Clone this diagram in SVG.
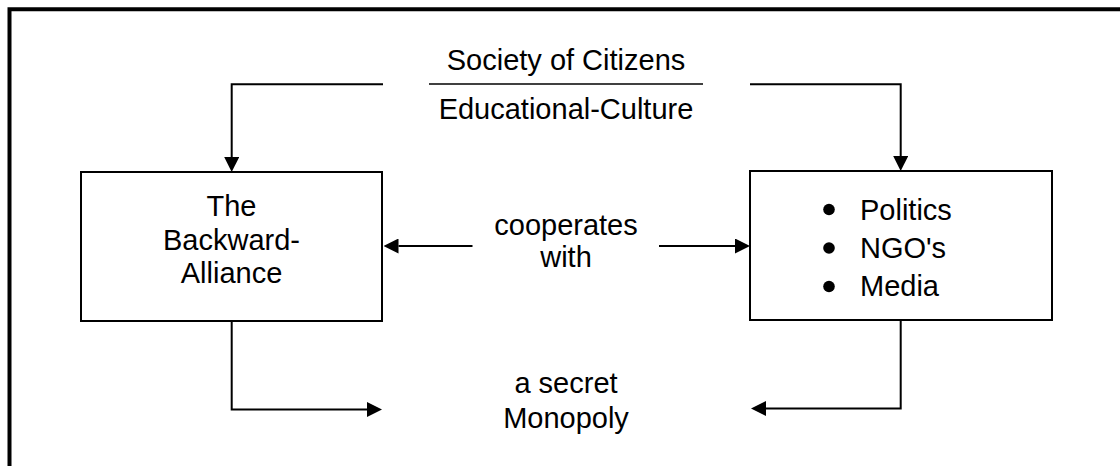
<svg xmlns="http://www.w3.org/2000/svg" width="1120" height="466" viewBox="0 0 1120 466">
  <style>
    .t { font-family: "Liberation Sans", Arial, sans-serif; font-size: 29px; fill: #000; }
    .c { text-anchor: middle; }
    .box { fill: #fff; stroke: #000; stroke-width: 2; }
    .conn { fill: none; stroke: #000; stroke-width: 2; }
  </style>
  <defs>
    <marker id="ah" viewBox="0 0 15 15" refX="0" refY="7.5" markerWidth="15" markerHeight="15" markerUnits="userSpaceOnUse" orient="auto">
      <path d="M0,0 L15,7.5 L0,15 z" fill="#000"/>
    </marker>
  </defs>
  <rect width="1120" height="466" fill="#fff"/>
  <!-- frame (top and left edges) -->
  <path d="M9.5,470 V9.3 H1125" fill="none" stroke="#000" stroke-width="4"/>

  <g id="society">
    <text class="t c" x="566" y="70">Society of Citizens</text>
    <line x1="429" y1="84" x2="703" y2="84" stroke="#000" stroke-width="1.5"/>
    <text class="t c" x="566" y="119">Educational-Culture</text>
  </g>

  <g id="backward-alliance">
    <rect class="box" x="81" y="172" width="301" height="149"/>
    <text class="t c" x="231.5" y="216">The</text>
    <text class="t c" x="231.5" y="249.5">Backward-</text>
    <text class="t c" x="231.5" y="283">Alliance</text>
  </g>

  <g id="politics-ngo-media">
    <rect class="box" x="750" y="171" width="302" height="149"/>
    <circle cx="829" cy="209.5" r="5.8"/>
    <circle cx="829" cy="248" r="5.8"/>
    <circle cx="829" cy="286.5" r="5.8"/>
    <text class="t" x="860" y="219.5">Politics</text>
    <text class="t" x="860" y="257.5">NGO's</text>
    <text class="t" x="860" y="296">Media</text>
  </g>

  <g id="cooperates">
    <text class="t c" x="566" y="235">cooperates</text>
    <text class="t c" x="566" y="267">with</text>
  </g>

  <g id="monopoly">
    <text class="t c" x="566" y="393">a secret</text>
    <text class="t c" x="566" y="428">Monopoly</text>
  </g>

  <g id="connectors">
    <path class="conn" d="M383,84.3 H231.7 V157" marker-end="url(#ah)"/>
    <path class="conn" d="M750,84.3 H900.7 V156" marker-end="url(#ah)"/>
    <path class="conn" d="M472.5,246 H398.5" marker-end="url(#ah)"/>
    <path class="conn" d="M659,246 H735" marker-end="url(#ah)"/>
    <path class="conn" d="M231.7,321 V409.5 H367" marker-end="url(#ah)"/>
    <path class="conn" d="M900.7,320 V408.5 H766" marker-end="url(#ah)"/>
  </g>
</svg>
